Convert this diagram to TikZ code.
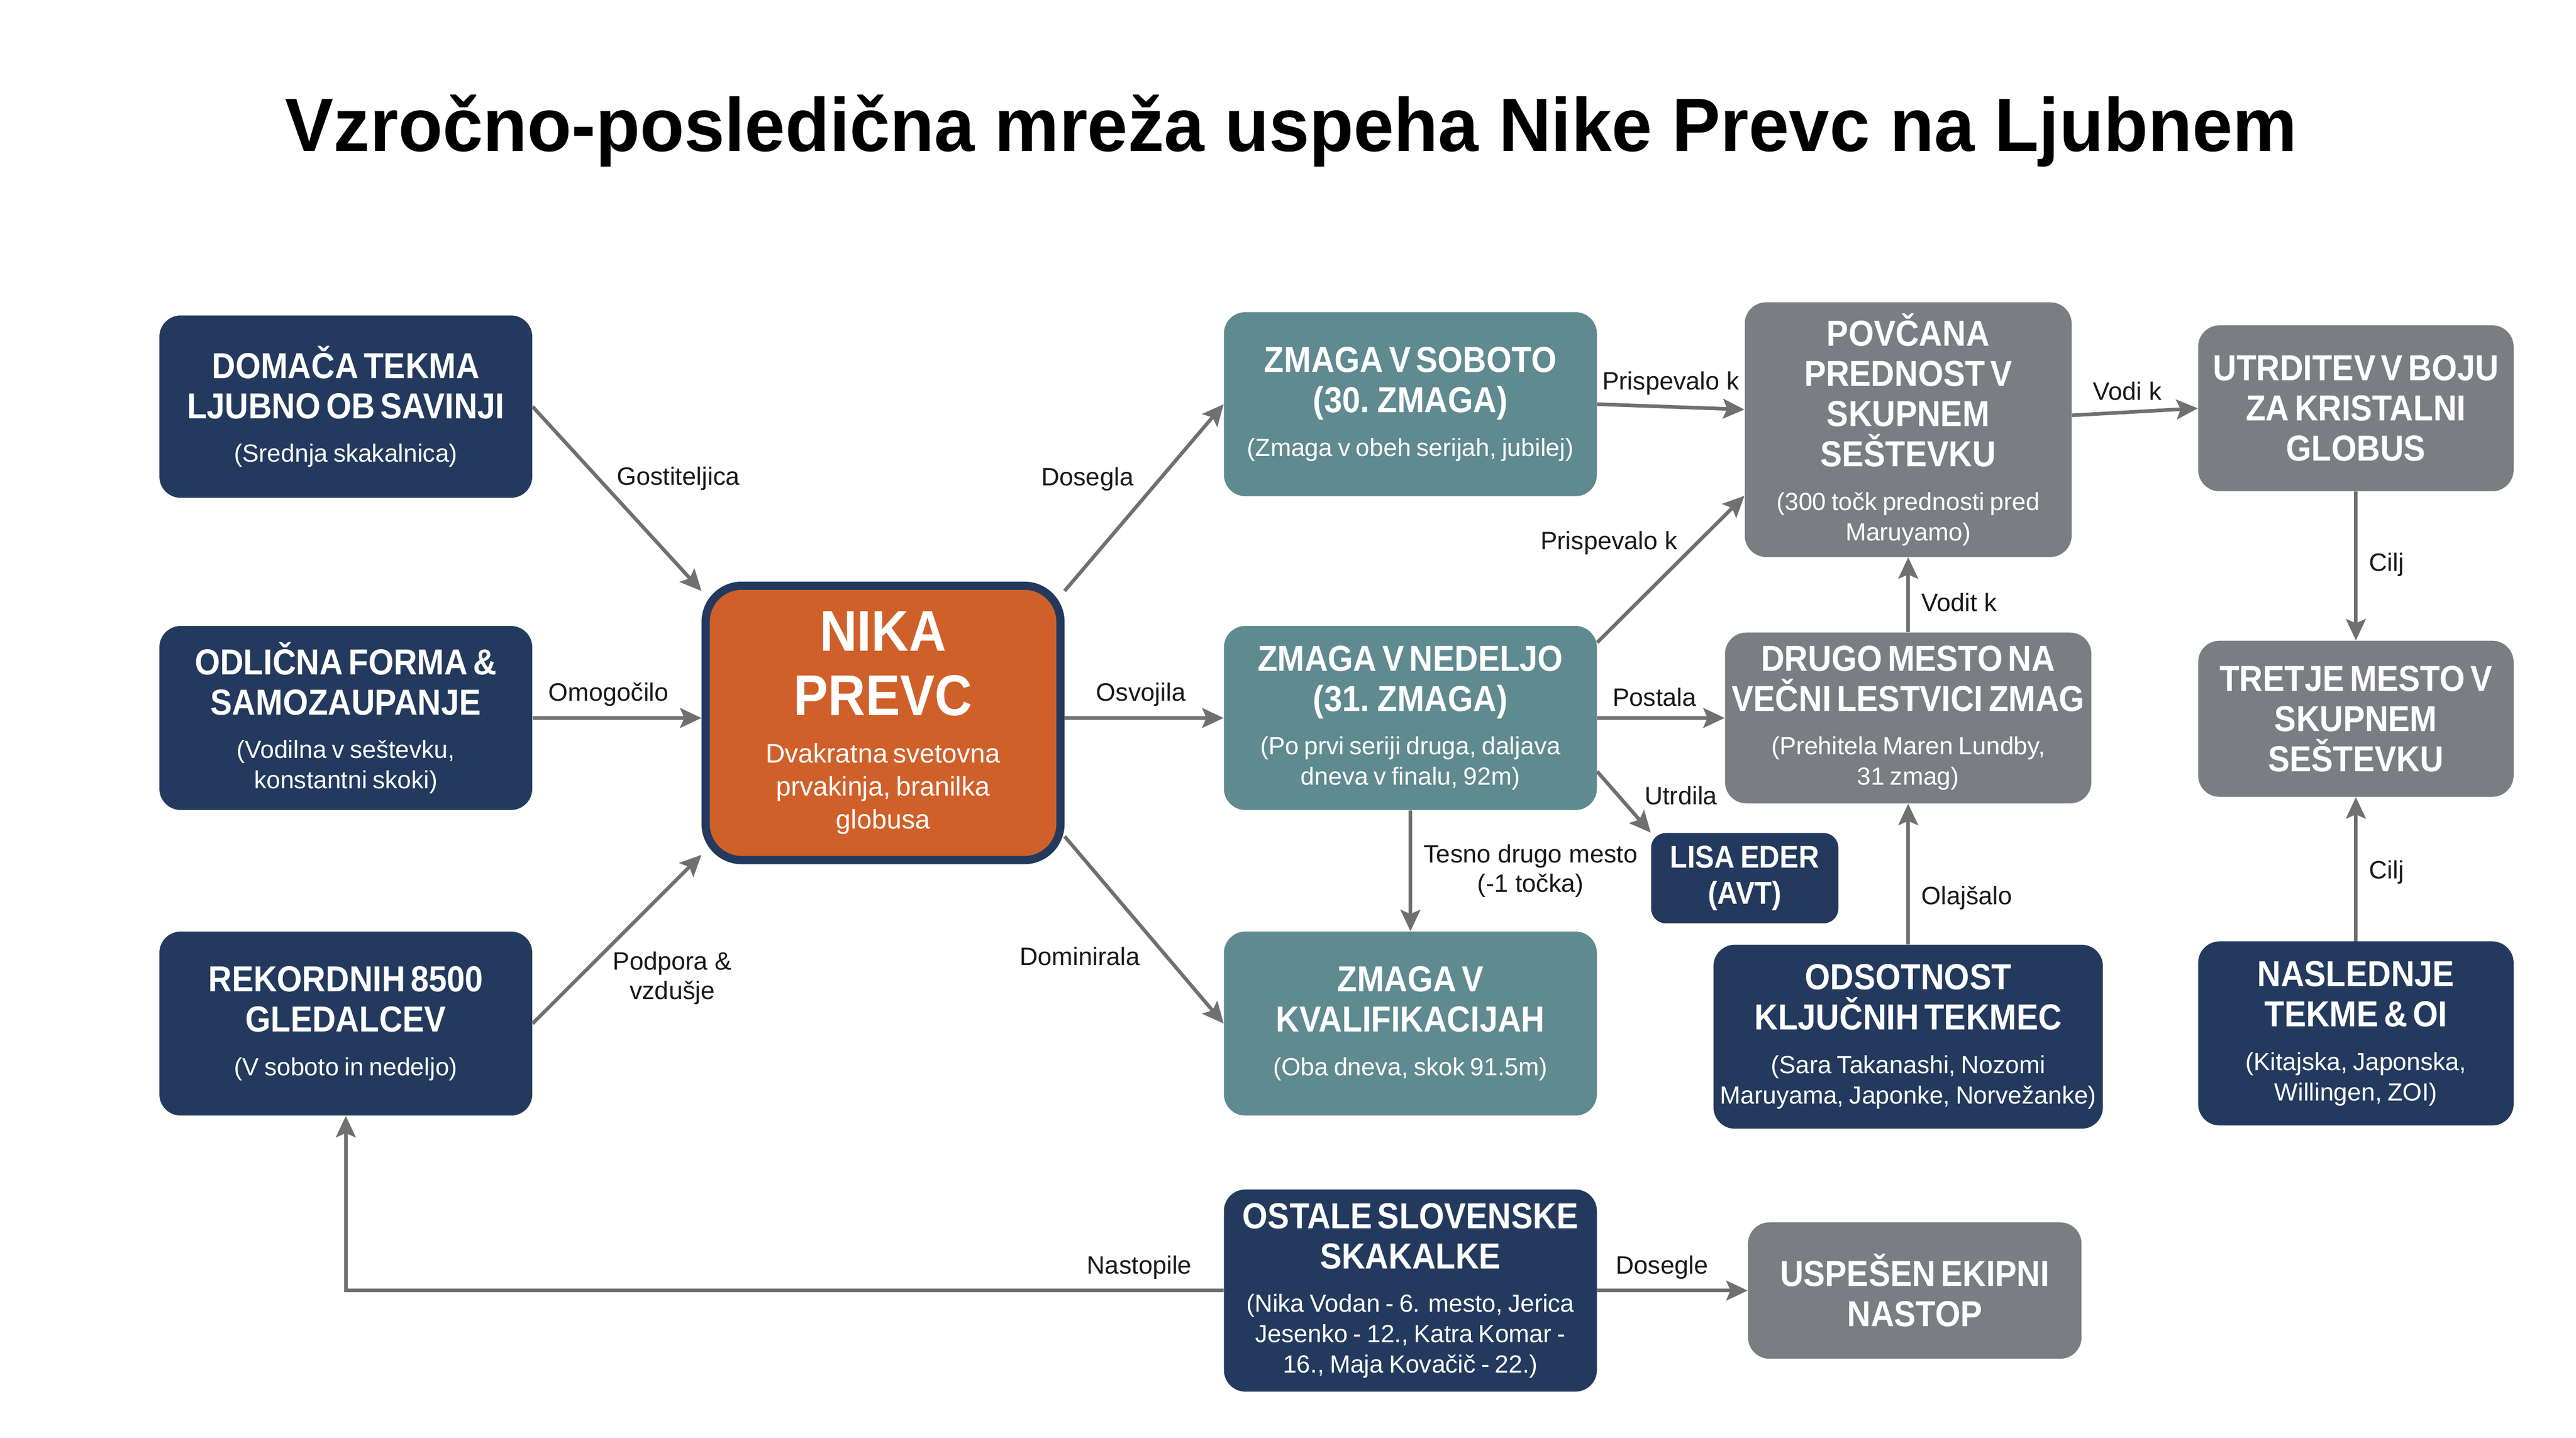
\documentclass[tikz,border=0pt]{standalone}
\usepackage{fontspec}
\setmainfont{Liberation Sans}[BoldFeatures={FakeStretch=0.9}]
\newfontfamily\titlefont{Liberation Sans}[BoldFeatures={FakeStretch=0.96}]
\usetikzlibrary{arrows.meta}
\definecolor{boxnavy}{HTML}{233A5E}
\definecolor{boxteal}{HTML}{5F8A8F}
\definecolor{boxgrey}{HTML}{7A7E83}
\definecolor{boxorange}{HTML}{D0602A}
\definecolor{arrowgrey}{HTML}{707070}
\newcommand\cardhead[1]{{\fontsize{22}{24.5}\selectfont\bfseries #1\par}}
\newcommand\cardnote[1]{\vspace{8pt}{\fontsize{15.1}{18.5}\selectfont #1\par}}
\tikzset{
    card/.style={rounded corners=13pt,text=white,align=center,inner sep=0pt},
    boxsize/.style 2 args={minimum width=#1,minimum height=#2,text width=#1},
    navybox/.style={card,fill=boxnavy},
    tealbox/.style={card,fill=boxteal},
    greybox/.style={card,fill=boxgrey},
    link/.style={draw=arrowgrey,line width=2.2pt,-{Stealth[length=13pt,width=12pt,inset=2.5pt]}},
    lbl/.style={text=black!90,font=\fontsize{15.3}{18}\selectfont,align=center,inner sep=2pt}}
\begin{document}
\begin{tikzpicture}[x=1pt,y=-1pt]
  \fill[white] (0,0) rectangle (1568,875.2);
  \useasboundingbox (0,0) rectangle (1568,875.2);
  \node[font=\titlefont\bfseries\fontsize{46}{50}\selectfont,anchor=base] (title) at (786,92)
    {Vzročno-posledična mreža uspeha Nike Prevc na Ljubnem};
  % left column
  \node[navybox,boxsize={227pt}{111pt}] (domaca) at (210.5,247.5)
    {\cardhead{DOMAČA TEKMA\\LJUBNO OB SAVINJI}\cardnote{(Srednja skakalnica)}};
  \node[navybox,boxsize={227pt}{112pt}] (odlicna) at (210.5,437)
    {\cardhead{ODLIČNA FORMA \&\\SAMOZAUPANJE}\cardnote{(Vodilna v seštevku,\\konstantni skoki)}};
  \node[navybox,boxsize={227pt}{112pt}] (rekord) at (210.5,623)
    {\cardhead{REKORDNIH 8500\\GLEDALCEV}\cardnote{(V soboto in nedeljo)}};
  % centre
  \node[card,fill=boxorange,draw=boxnavy,line width=5pt,rounded corners=22pt,boxsize={216pt}{167pt}] (nika) at (537.5,440)
    {{\fontsize{35}{39}\selectfont\bfseries NIKA\\PREVC\par}\vspace{9pt}{\fontsize{16.3}{20}\selectfont Dvakratna svetovna\\prvakinja, branilka\\globusa\par}};
  % wins
  \node[tealbox,boxsize={227pt}{112pt}] (soboto) at (858.5,246)
    {\cardhead{ZMAGA V SOBOTO\\(30. ZMAGA)}\cardnote{(Zmaga v obeh serijah, jubilej)}};
  \node[tealbox,boxsize={227pt}{112pt}] (nedelja) at (858.5,437)
    {\cardhead{ZMAGA V NEDELJO\\(31. ZMAGA)}\cardnote{(Po prvi seriji druga, daljava\\dneva v finalu, 92m)}};
  \node[tealbox,boxsize={227pt}{112pt}] (kvalif) at (858.5,623)
    {\cardhead{ZMAGA V\\KVALIFIKACIJAH}\cardnote{(Oba dneva, skok 91.5m)}};
  \node[navybox,boxsize={227pt}{123pt}] (ostale) at (858.5,785.5)
    {\cardhead{OSTALE SLOVENSKE\\SKAKALKE}\cardnote{(Nika Vodan - 6. mesto, Jerica\\Jesenko - 12., Katra Komar -\\16., Maja Kovačič - 22.)}};
  % results
  \node[greybox,boxsize={199pt}{155pt}] (povcana) at (1161.5,261.5)
    {\cardhead{POVČANA\\PREDNOST V\\SKUPNEM\\SEŠTEVKU}\cardnote{(300 točk prednosti pred\\Maruyamo)}};
  \node[greybox,boxsize={223pt}{104pt}] (drugo) at (1161.5,437)
    {\cardhead{DRUGO MESTO NA\\VEČNI LESTVICI ZMAG}\cardnote{(Prehitela Maren Lundby,\\31 zmag)}};
  \node[navybox,rounded corners=9pt,boxsize={114pt}{55pt}] (lisa) at (1062,534.5)
    {{\fontsize{19.2}{22}\selectfont\bfseries LISA EDER\\(AVT)\par}};
  \node[navybox,boxsize={237pt}{112pt}] (odsotnost) at (1161.5,631)
    {\cardhead{ODSOTNOST\\KLJUČNIH TEKMEC}\cardnote{(Sara Takanashi, Nozomi\\Maruyama, Japonke, Norvežanke)}};
  \node[greybox,boxsize={203pt}{83pt}] (uspesen) at (1165.5,785.5)
    {\cardhead{USPEŠEN EKIPNI\\NASTOP}};
  % right column
  \node[greybox,boxsize={192pt}{101pt}] (utrditev) at (1434,248.5)
    {\cardhead{UTRDITEV V BOJU\\ZA KRISTALNI\\GLOBUS}};
  \node[greybox,boxsize={192pt}{95pt}] (tretje) at (1434,437.5)
    {\cardhead{TRETJE MESTO V\\SKUPNEM\\SEŠTEVKU}};
  \node[navybox,boxsize={192pt}{112pt}] (naslednje) at (1434,629)
    {\cardhead{NASLEDNJE\\TEKME \& OI}\cardnote{(Kitajska, Japonska,\\Willingen, ZOI)}};
  % connectors
  \draw[link] (domaca.east) -- (nika.144) node[lbl,pos=.39,anchor=west,xshift=8pt] {Gostiteljica};
  \draw[link] (odlicna.east) -- (odlicna.east -| nika.west) node[lbl,pos=.45,above=4pt] {Omogočilo};
  \draw[link] (rekord.east) -- (nika.216) node[lbl,pos=.27,anchor=west,xshift=18pt] {Podpora \&\\vzdušje};
  \draw[link] (nika.36) -- (soboto.west) node[lbl,pos=.6,anchor=east,xshift=-13pt] {Dosegla};
  \draw[link] (nedelja.west -| nika.east) -- (nedelja.west) node[lbl,pos=.48,above=4pt] {Osvojila};
  \draw[link] (nika.-32) -- (kvalif.west) node[lbl,pos=.64,anchor=east,xshift=-13pt] {Dominirala};
  \draw[link] (soboto.east) -- (povcana.173) node[lbl,pos=.5,above=4pt] {Prispevalo k};
  \draw[link] (nedelja.22) -- (povcana.202) node[lbl,pos=.68,anchor=east,xshift=-9pt] {Prispevalo k};
  \draw[link] (nedelja.east) -- (drugo.west) node[lbl,pos=.45,above=4pt] {Postala};
  \draw[link] (nedelja.-16) -- (lisa.north west) node[lbl,pos=.39,anchor=west,xshift=13pt] {Utrdila};
  \draw[link] (nedelja.south) -- (kvalif.north) node[lbl,pos=.5,anchor=west,xshift=5pt] {Tesno drugo mesto\\(-1 točka)};
  \draw[link] (drugo.north) -- (povcana.south) node[lbl,pos=.4,anchor=west,xshift=5pt] {Vodit k};
  \draw[link] (odsotnost.north) -- (drugo.south) node[lbl,pos=.33,anchor=west,xshift=5pt] {Olajšalo};
  \draw[link] (povcana.5) -- (utrditev.west) node[lbl,pos=.44,above=4pt] {Vodi k};
  \draw[link] (utrditev.south) -- (tretje.north) node[lbl,pos=.49,anchor=west,xshift=5pt] {Cilj};
  \draw[link] (naslednje.north) -- (tretje.south) node[lbl,pos=.48,anchor=west,xshift=5pt] {Cilj};
  \draw[link] (ostale.west) -| (rekord.south) node[lbl,pos=.048,above=4pt] {Nastopile};
  \draw[link] (ostale.east) -- (uspesen.west) node[lbl,pos=.43,above=4pt] {Dosegle};
\end{tikzpicture}
\end{document}
